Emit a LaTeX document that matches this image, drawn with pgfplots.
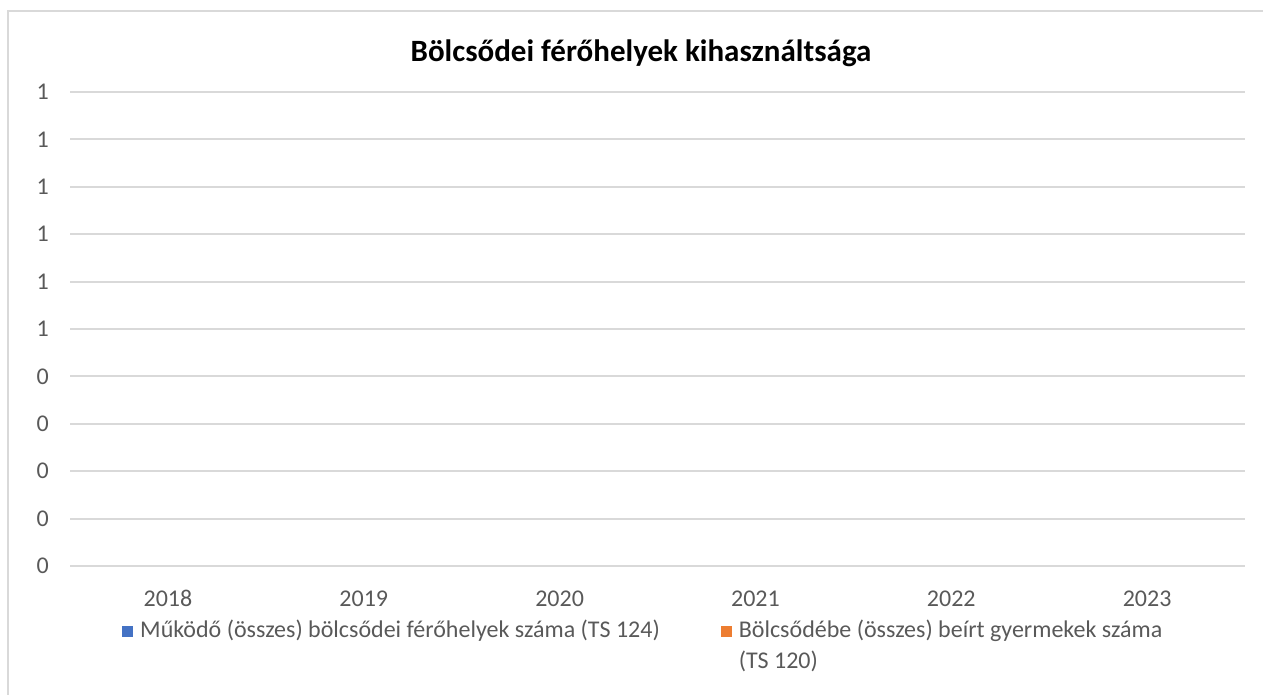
\documentclass[border=0pt]{standalone}
\usepackage{pgfplots}
\pgfplotsset{compat=1.18}
\usepackage{fontspec}
\setmainfont{Carlito}
\definecolor{txtgray}{HTML}{595959}
\definecolor{gridgray}{HTML}{D9D9D9}
\definecolor{xlblue}{HTML}{4472C4}
\definecolor{xlorange}{HTML}{ED7D31}
\begin{document}
\begin{tikzpicture}
\path[use as bounding box] (0pt,0pt) rectangle (1263pt,695pt);
\draw[gridgray, line width=2pt] (8pt,0pt) -- (8pt,684pt) -- (1263pt,684pt);
\node[font=\fontsize{31}{36}\selectfont\bfseries, text=black, inner sep=0pt] at (641pt,642pt) {Bölcsődei férőhelyek kihasználtsága};
\begin{axis}[
  at={(70pt,129pt)}, anchor=south west,
  scale only axis, width=1175pt, height=474pt,
  xmin=-0.5, xmax=5.5, ymin=0, ymax=1,
  xtick={0,1,2,3,4,5},
  xticklabels={2018,2019,2020,2021,2022,2023},
  ytick={0,0.1,0.2,0.3,0.4,0.5,0.6,0.7,0.8,0.9,1},
  yticklabels={0,0,0,0,0,1,1,1,1,1,1},
  /pgf/number format/assume math mode=true,
  axis line style={draw=none},
  tick style={draw=none},
  ymajorgrids,
  grid style={gridgray, line width=2pt},
  ticklabel style={font=\fontsize{24}{28}\selectfont, text=txtgray, inner sep=0pt},
  yticklabel style={anchor=east},
  xticklabel style={anchor=base},
  yticklabel shift=21pt,
  xticklabel shift=41pt,
  legend columns=2,
  legend style={draw=none, fill=none, at={(0.0443,-0.11)}, anchor=north west,
    font=\fontsize{24}{31}\selectfont, text=txtgray, inner sep=0pt,
    cells={anchor=base west},
    /tikz/every odd column/.append style={column sep=5pt},
    /tikz/every even column/.append style={column sep=59pt}},
  legend image code/.code={\fill[#1] (0pt,1pt) rectangle (11pt,12pt);},
]
\addlegendimage{fill=xlblue, draw=none}
\addlegendentry{Működő (összes) bölcsődei férőhelyek száma (TS 124)}
\addlegendimage{fill=xlorange, draw=none}
\addlegendentry{\parbox[t]{440pt}{Bölcsődébe (összes) beírt gyermekek száma\\(TS 120)}}
\end{axis}
\end{tikzpicture}
\end{document}
